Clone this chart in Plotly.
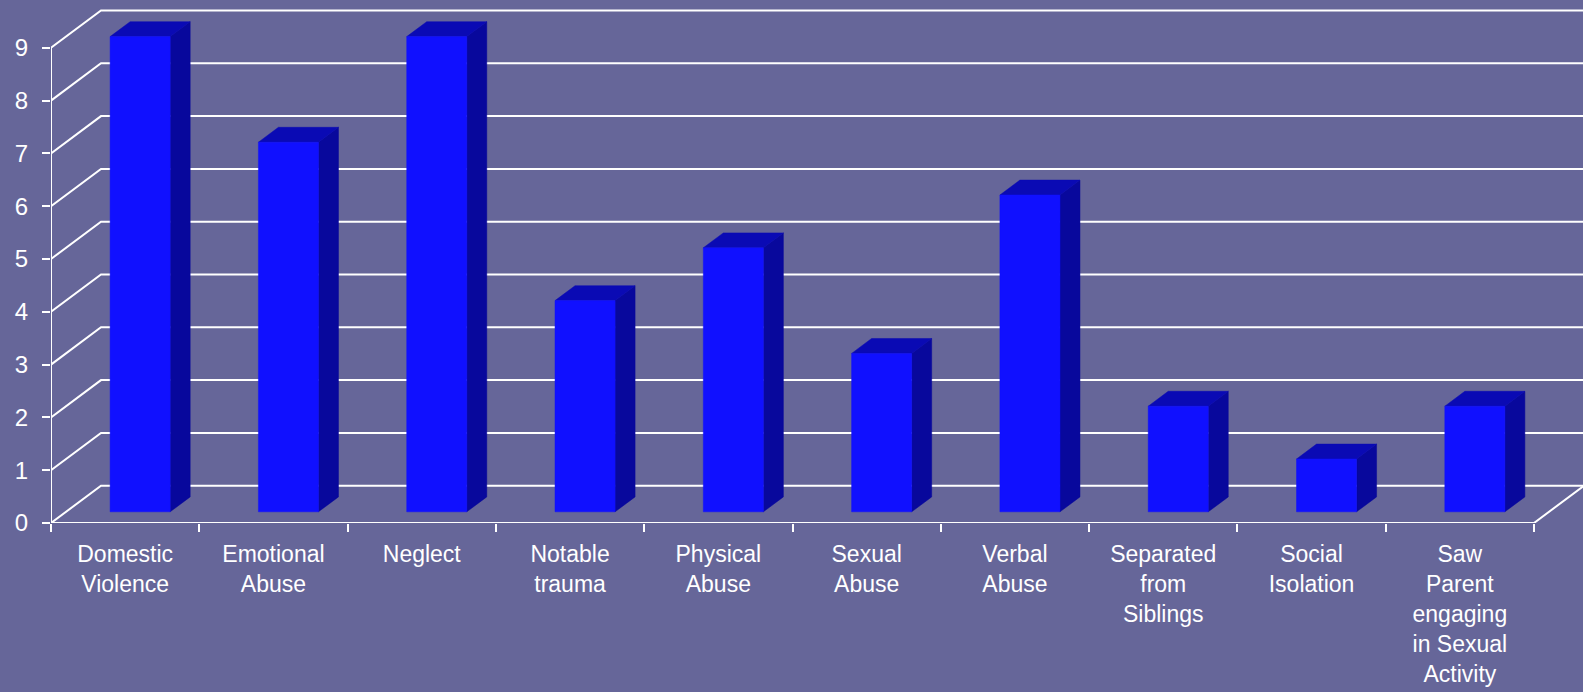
import plotly.graph_objects as go

# ---- data ----
categories = ["Domestic<br>Violence", "Emotional<br>Abuse", "Neglect", "Notable<br>trauma",
              "Physical<br>Abuse", "Sexual<br>Abuse", "Verbal<br>Abuse",
              "Separated<br>from<br>Siblings", "Social<br>Isolation",
              "Saw<br>Parent<br>engaging<br>in Sexual<br>Activity"]
values = [9, 7, 9, 4, 5, 3, 6, 2, 1, 2]
y_ticks = list(range(0, 10))

# ---- layout geometry ----
W, H = 1583, 692
L, B = 51, 169
X_UNIT = 148.3   # px per category
Y_UNIT = 52.8    # px per value unit
DX = 50 / X_UNIT     # depth offset in x data units
DY = 37.3 / Y_UNIT   # depth offset in y data units
F0, F1 = 0.3, 0.7    # bar depth start / end fraction
BAR_W = 0.405

n = len(categories)
xmax = (W - L) / X_UNIT
ymax = (H - B) / Y_UNIT

BG = "#666699"
FRONT = "#1010FF"
TOP = "#0A0AB4"
SIDE = "#08089C"
GRID = "#FFFFFF"

fig = go.Figure()

# grid lines: left wall diagonals + back wall horizontals
gx, gy = [], []
for k in y_ticks:
    gx += [0, DX, xmax + 1, None]
    gy += [k, k + DY, k + DY, None]
fig.add_trace(go.Scatter(x=gx, y=gy, mode="lines", line=dict(color=GRID, width=2),
                         hoverinfo="skip", showlegend=False))

# floor front edge + right diagonal, and y-axis line
fx = [0, n, n + DX, None, 0, 0]
fy = [0, 0, DY, None, 0, y_ticks[-1]]
fig.add_trace(go.Scatter(x=fx, y=fy, mode="lines", line=dict(color=GRID, width=2),
                         hoverinfo="skip", showlegend=False))

# bars
d = F1 - F0
front_x, front_y, top_x, top_y, side_x, side_y = [], [], [], [], [], []
for i, v in enumerate(values):
    cx = i + 0.5
    x0 = cx - BAR_W / 2 + F0 * DX
    x1 = x0 + BAR_W
    yb = F0 * DY
    yt = v + F0 * DY
    ox, oy = d * DX, d * DY
    front_x += [x0, x1, x1, x0, x0, None]
    front_y += [yb, yb, yt, yt, yb, None]
    top_x += [x0, x1, x1 + ox, x0 + ox, x0, None]
    top_y += [yt, yt, yt + oy, yt + oy, yt, None]
    side_x += [x1, x1 + ox, x1 + ox, x1, x1, None]
    side_y += [yb, yb + oy, yt + oy, yt, yb, None]

for xs, ys, col in [(side_x, side_y, SIDE), (top_x, top_y, TOP), (front_x, front_y, FRONT)]:
    fig.add_trace(go.Scatter(x=xs, y=ys, mode="lines", fill="toself", fillcolor=col,
                             line=dict(color=col, width=0.5), hoverinfo="skip",
                             showlegend=False))

font = dict(family="Liberation Sans, Arial, sans-serif", size=23, color="white")

fig.update_layout(
    width=W, height=H,
    margin=dict(l=L, r=0, t=0, b=B, pad=0),
    paper_bgcolor=BG, plot_bgcolor=BG,
    font=font,
    showlegend=False,
    xaxis=dict(range=[0, xmax], tickmode="array",
               tickvals=[i + 0.5 for i in range(n)], ticktext=categories,
               ticks="", showgrid=False, zeroline=False, showline=False,
               tickfont=font, tickangle=0, automargin=False, ticklabelstandoff=15,
               minor=dict(tickmode="array", tickvals=list(range(n + 1)),
                          ticks="outside", ticklen=8, tickwidth=2, tickcolor=GRID,
                          showgrid=False)),
    yaxis=dict(range=[0, ymax], tickmode="array", tickvals=y_ticks,
               ticktext=[str(t) for t in y_ticks],
               ticks="outside", ticklen=8, tickwidth=2, tickcolor=GRID,
               showgrid=False, zeroline=False, showline=False,
               tickfont=dict(family="Liberation Sans, Arial, sans-serif", size=24,
                             color="white"),
               automargin=False, ticklabelstandoff=9),
)

fig.write_html("out.html")
